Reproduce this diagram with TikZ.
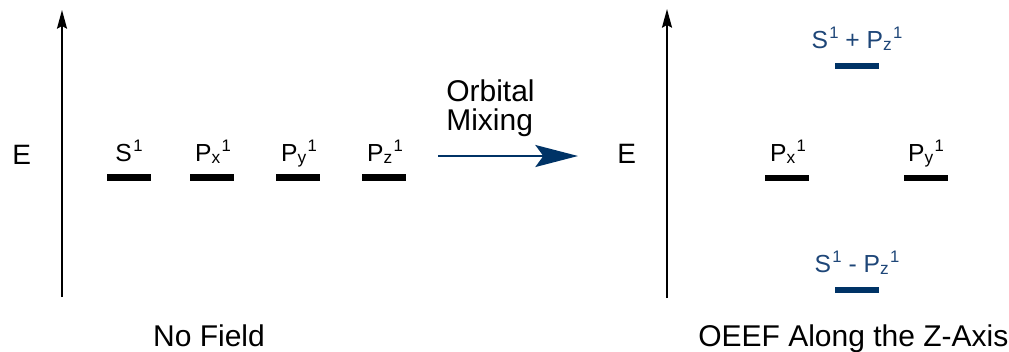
\documentclass[tikz,border=0pt]{standalone}
\usepackage{fontspec}
\setmainfont{Liberation Sans}
\usetikzlibrary{arrows.meta}
\definecolor{navy}{RGB}{0,51,102}
\definecolor{navytext}{RGB}{30,70,120}
\newcommand\osup[1]{\kern1pt\raisebox{7pt}{\fontsize{12.5pt}{14pt}\selectfont #1}}
\newcommand\osub[1]{\raisebox{-1.5pt}{\fontsize{13pt}{14pt}\selectfont #1}}
\begin{document}
\begin{tikzpicture}[x=0.75pt,y=-0.75pt,
  bar/.style={fill=black,draw=none,minimum width=33pt,minimum height=5pt,inner sep=0pt},
  nbar/.style={bar,fill=navy},
  lbl/.style={anchor=base,inner sep=0pt,font=\fontsize{18.5pt}{21pt}\selectfont},
  nlbl/.style={lbl,text=navytext},
  big/.style={inner sep=0pt,font=\fontsize{22.5pt}{26pt}\selectfont},
  axis/.style={line width=1.4pt,-{Stealth[length=14pt,width=7.5pt,inset=2pt]}},
  mix/.style={draw=navy,line width=1.5pt,-{Stealth[length=32pt,width=16.5pt,inset=6pt]}}]
\useasboundingbox (0,0) rectangle (1009,351);
% left axis
\coordinate (a1b) at (62,297);
\coordinate (a1t) at (62,10);
\draw[axis] (a1b) -- (a1t);
\node[big,anchor=base west,font=\fontsize{21pt}{24pt}\selectfont] (e1) at (12,164) {E};
% left bars
\node[bar] (s) at (129,177.5) {};
\node[bar] (px) at (212,177.5) {};
\node[bar] (py) at (298,177.5) {};
\node[bar] (pz) at (384,177.5) {};
\node[lbl] (ls) at (129,161) {S\osup{1}};
\node[lbl] (lpx) at (213,161) {P\osub{x}\osup{1}};
\node[lbl] (lpy) at (299,161) {P\osub{y}\osup{1}};
\node[lbl] (lpz) at (385,161) {P\osub{z}\osup{1}};
\node[big,anchor=base] (nf) at (209,346) {No Field};
% mixing arrow
\coordinate (m1) at (438,156);
\coordinate (m2) at (578,156);
\draw[mix] (m1) -- (m2);
\node[big,anchor=base west,align=left] (om1) at (446,101) {Orbital};
\node[big,anchor=base west,align=left] (om2) at (446,130) {Mixing};
% right axis
\coordinate (a2b) at (667,298);
\coordinate (a2t) at (667,9);
\draw[axis] (a2b) -- (a2t);
\node[big,anchor=base west,font=\fontsize{21pt}{24pt}\selectfont] (e2) at (617,163) {E};
% right bars
\node[nbar] (sp) at (857,66) {};
\node[bar] (rpx) at (787,178) {};
\node[bar] (rpy) at (926,178) {};
\node[nbar] (sm) at (857,290) {};
\node[nlbl] (lsp) at (857,48) {S\osup{1} + P\osub{z}\osup{1}};
\node[lbl] (lrpx) at (788,161) {P\osub{x}\osup{1}};
\node[lbl] (lrpy) at (926,161) {P\osub{y}\osup{1}};
\node[nlbl] (lsm) at (857,272) {S\osup{1} - P\osub{z}\osup{1}};
\node[big,anchor=base west] (oe) at (698,346) {OEEF Along the Z-Axis};
\end{tikzpicture}
\end{document}
